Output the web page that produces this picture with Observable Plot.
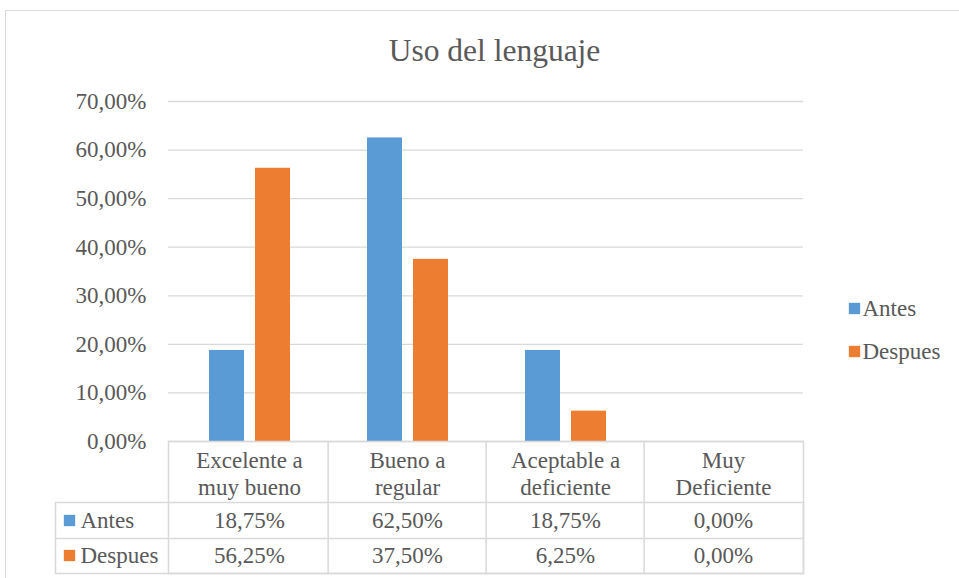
<!DOCTYPE html>
<html><head><meta charset="utf-8">
<script src="https://cdn.jsdelivr.net/npm/d3@7"></script>
<script src="https://cdn.jsdelivr.net/npm/@observablehq/plot@0.6"></script>
<style>
body{margin:0;background:#fff;font-family:"Liberation Serif";}
#chart{position:relative;width:959px;height:578px;overflow:hidden;}
#chart svg{position:absolute;left:0;top:0;}
#border{position:absolute;left:5px;top:10px;width:990px;height:620px;border:1.5px solid #d9d9d9;pointer-events:none;}
</style></head><body>
<div id="chart"><div id="border"></div></div>
<script>
const title = "Uso del lenguaje";
const categories = ["Excelente a muy bueno", "Bueno a regular", "Aceptable a deficiente", "Muy Deficiente"];
const headerLabels = ["Excelente a\nmuy bueno", "Bueno a\nregular", "Aceptable a\ndeficiente", "Muy\nDeficiente"];
const series = ["Antes", "Despues"];
const antes = [0.1875, 0.625, 0.1875, 0];
const despues = [0.5625, 0.375, 0.0625, 0];
const yTicks = [0, 0.1, 0.2, 0.3, 0.4, 0.5, 0.6, 0.7];
const colors = ["#5B9BD5", "#ED7D31"];

const values = [antes, despues];
const rows = categories.flatMap((c, i) => series.map((s, k) => ({cat: c, series: s, value: values[k][i]})));
const fmt = v => (v * 100).toFixed(2).replace(".", ",") + "%";
const grid = "#d9d9d9";
const ink = "#595959";
const barInsets = [{insetLeft: 39, insetRight: 84}, {insetLeft: 85, insetRight: 38}];

const chart = Plot.plot({
  width: 959, height: 578,
  marginLeft: 168, marginRight: 156, marginTop: 101, marginBottom: 137,
  style: {fontFamily: "Liberation Serif", fontSize: "23px"},
  x: {type: "band", domain: categories, padding: 0, axis: null},
  y: {domain: [0, 0.7], label: null, axis: null},
  marks: [
    Plot.gridY(yTicks, {stroke: grid, strokeOpacity: 1, strokeWidth: 1.3}),
    Plot.axisY(yTicks, {tickSize: 0, tickPadding: 22, tickFormat: fmt, label: null, fill: ink}),
    ...series.map((s, k) => Plot.barY(rows.filter(r => r.series === s), {x: "cat", y: "value", fill: colors[k], ...barInsets[k]})),
    // title
    Plot.text([title], {frameAnchor: "top", lineAnchor: "middle", dx: 8.5, dy: -51, fontSize: 31.5, fill: ink, text: d => d}),
    // legend
    ...series.flatMap((s, k) => [
      Plot.dot([s], {frameAnchor: "right", dx: 51, dy: 37 + 43 * k, symbol: "square", r: 6.4, fill: colors[k], stroke: null}),
      Plot.text([s], {frameAnchor: "right", lineAnchor: "middle", dx: 59, dy: 37 + 43 * k, textAnchor: "start", fill: ink, text: d => d})
    ]),
    // data table lines
    Plot.frame({stroke: grid, strokeWidth: 1.5, insetTop: 340, insetBottom: -132}),
    Plot.frame({stroke: grid, strokeWidth: 1.5, insetTop: 401, insetBottom: -132, insetLeft: -113}),
    Plot.ruleX(categories.slice(1), {x: d => d, dx: -79.375, insetTop: 340, insetBottom: -132, stroke: grid, strokeWidth: 1.5}),
    Plot.ruleY([0], {dy: 97, insetLeft: -113, stroke: grid, strokeWidth: 1.5}),
    // header labels
    Plot.text(categories, {x: d => d, text: (d, i) => headerLabels[i], frameAnchor: "bottom", lineAnchor: "middle", dy: 31.5, lineHeight: 27 / 23, fill: ink}),
    // row labels and values
    ...series.flatMap((s, k) => [
      Plot.dot([s], {frameAnchor: "bottom-left", dx: -99, dy: 79 + 35 * k, symbol: "square", r: 6.4, fill: colors[k], stroke: null}),
      Plot.text([s], {frameAnchor: "bottom-left", lineAnchor: "middle", dx: -88, dy: 79 + 35 * k, textAnchor: "start", fill: ink, text: d => d}),
      Plot.text(rows.filter(r => r.series === s), {x: "cat", text: d => fmt(d.value), frameAnchor: "bottom", lineAnchor: "middle", dy: 79 + 35 * k, fill: ink})
    ])
  ]
});
chart.setAttribute("font-family", "Liberation Serif");
chart.querySelectorAll("text, tspan").forEach(t => t.style.fontFamily = "Liberation Serif");
document.getElementById("chart").prepend(chart);
</script>
</body></html>
